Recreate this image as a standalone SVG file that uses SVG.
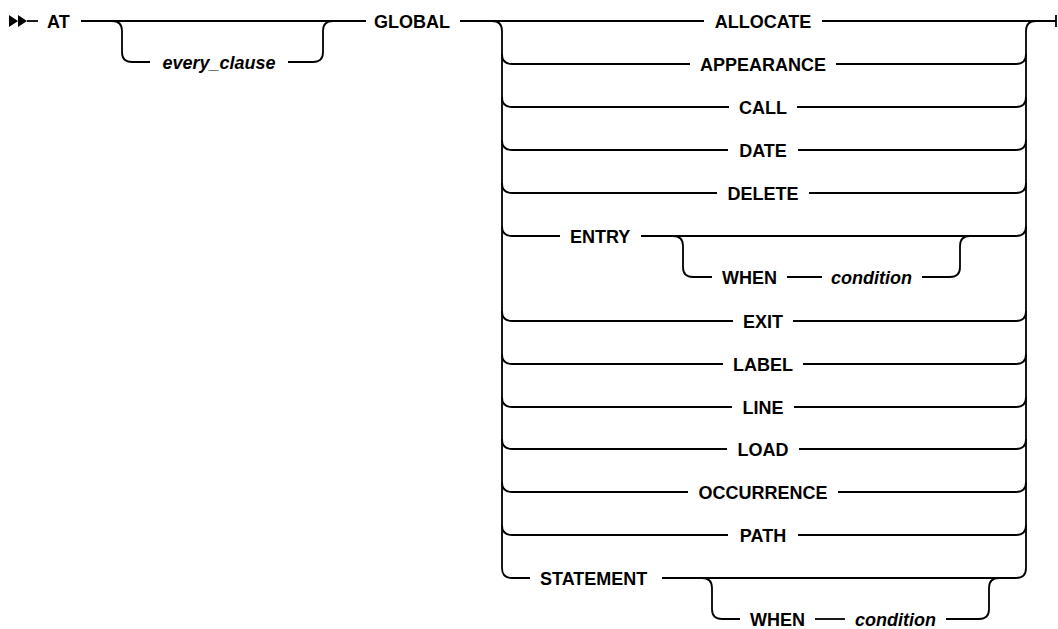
<svg xmlns="http://www.w3.org/2000/svg" width="1058" height="629" viewBox="0 0 1058 629">
<style>
  .ln { fill: none; stroke: #000; stroke-width: 1.8; }
  .kw { font-family: "Liberation Sans", Arial, sans-serif; font-size: 18px; font-weight: bold; fill: #000; }
  .kc { text-anchor: middle; }
  .var { font-family: "Liberation Sans", Arial, sans-serif; font-size: 18px; font-weight: bold; font-style: italic; fill: #000; }
</style>
<rect width="1058" height="629" fill="#fff"/>
<g id="connectors">
  <path d="M9,15 L18,21 L9,27 Z M18,15 L27,21 L18,27 Z" fill="#000"/>
  <path class="ln" d="M27,21 H38"/>
  <path class="ln" d="M81,21 H366"/>
  <path class="ln" d="M460,21 H704 M822,21 H1056"/>
  <path class="ln" d="M1056,15 V27"/>
  <!-- every_clause optional -->
  <path class="ln" d="M112,21 Q122,21 122,31 V52 Q122,62 132,62 H150"/>
  <path class="ln" d="M288,62 H313 Q323,62 323,52 V31 Q323,21 333,21"/>
  <!-- main choice left/right rails -->
  <path class="ln" d="M492,21 Q502,21 502,31 V568 Q502,578 512,578"/>
  <path class="ln" d="M1016,578 Q1026,578 1026,568 V31 Q1026,21 1036,21"/>
  <!-- branch curves left -->
  <path class="ln" d="M502,54 Q502,64 512,64 M502,97 Q502,107 512,107 M502,140 Q502,150 512,150 M502,183 Q502,193 512,193 M502,226 Q502,236 512,236 M502,311 Q502,321 512,321 M502,354 Q502,364 512,364 M502,397 Q502,407 512,407 M502,439 Q502,449 512,449 M502,482 Q502,492 512,492 M502,525 Q502,535 512,535"/>
  <!-- branch curves right -->
  <path class="ln" d="M1016,64 Q1026,64 1026,54 M1016,107 Q1026,107 1026,97 M1016,150 Q1026,150 1026,140 M1016,193 Q1026,193 1026,183 M1016,236 Q1026,236 1026,226 M1016,321 Q1026,321 1026,311 M1016,364 Q1026,364 1026,354 M1016,407 Q1026,407 1026,397 M1016,449 Q1026,449 1026,439 M1016,492 Q1026,492 1026,482 M1016,535 Q1026,535 1026,525"/>
  <!-- row lines -->
  <path class="ln" d="M512,64 H690 M836,64 H1016"/>
  <path class="ln" d="M512,107 H729 M797,107 H1016"/>
  <path class="ln" d="M512,150 H728 M798,150 H1016"/>
  <path class="ln" d="M512,193 H717 M809,193 H1016"/>
  <path class="ln" d="M512,236 H560 M641,236 H1016"/>
  <path class="ln" d="M512,321 H733 M793,321 H1016"/>
  <path class="ln" d="M512,364 H723 M803,364 H1016"/>
  <path class="ln" d="M512,407 H732 M794,407 H1016"/>
  <path class="ln" d="M512,449 H727 M799,449 H1016"/>
  <path class="ln" d="M512,492 H688 M838,492 H1016"/>
  <path class="ln" d="M512,535 H728 M798,535 H1016"/>
  <path class="ln" d="M512,578 H530 M662,578 H1016"/>
  <!-- ENTRY WHEN condition -->
  <path class="ln" d="M673,236 Q683,236 683,246 V267 Q683,277 693,277 H712"/>
  <path class="ln" d="M787,277 H822"/>
  <path class="ln" d="M922,277 H950 Q960,277 960,267 V246 Q960,236 970,236"/>
  <!-- STATEMENT WHEN condition -->
  <path class="ln" d="M702,578 Q712,578 712,588 V609 Q712,619 722,619 H740"/>
  <path class="ln" d="M815,619 H845"/>
  <path class="ln" d="M946,619 H979 Q989,619 989,609 V588 Q989,578 999,578"/>
</g>
<g id="n-at"><text class="kw" x="47" y="27.5">AT</text></g>
<g id="n-every"><text class="var" x="219" y="68.5" text-anchor="middle">every_clause</text></g>
<g id="n-global"><text class="kw" x="374" y="27.5">GLOBAL</text></g>
<g id="n-allocate"><text class="kw kc" x="763" y="27.5">ALLOCATE</text></g>
<g id="n-appearance"><text class="kw kc" x="763" y="70.5">APPEARANCE</text></g>
<g id="n-call"><text class="kw kc" x="763" y="113.5">CALL</text></g>
<g id="n-date"><text class="kw kc" x="763" y="156.5">DATE</text></g>
<g id="n-delete"><text class="kw kc" x="763" y="199.5">DELETE</text></g>
<g id="n-entry"><text class="kw" x="570" y="242.5">ENTRY</text></g>
<g id="n-entry-when"><text class="kw" x="722" y="283.5">WHEN</text></g>
<g id="n-entry-cond"><text class="var" x="831" y="283.5">condition</text></g>
<g id="n-exit"><text class="kw kc" x="763" y="327.5">EXIT</text></g>
<g id="n-label"><text class="kw kc" x="763" y="370.5">LABEL</text></g>
<g id="n-line"><text class="kw kc" x="763" y="413.5">LINE</text></g>
<g id="n-load"><text class="kw kc" x="763" y="455.5">LOAD</text></g>
<g id="n-occurrence"><text class="kw kc" x="763" y="498.5">OCCURRENCE</text></g>
<g id="n-path"><text class="kw kc" x="763" y="541.5">PATH</text></g>
<g id="n-statement"><text class="kw" x="540" y="584.5">STATEMENT</text></g>
<g id="n-stmt-when"><text class="kw" x="750" y="625.5">WHEN</text></g>
<g id="n-stmt-cond"><text class="var" x="855" y="625.5">condition</text></g>
</svg>
